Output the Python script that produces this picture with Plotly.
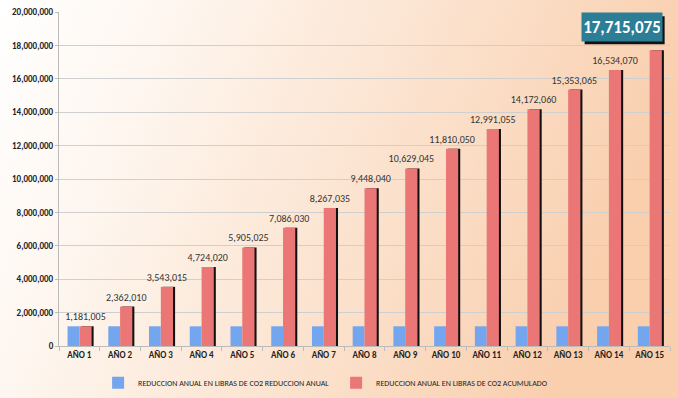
import base64
import plotly.graph_objects as go

categories = ["AÑO 1", "AÑO 2", "AÑO 3", "AÑO 4", "AÑO 5", "AÑO 6", "AÑO 7", "AÑO 8",
              "AÑO 9", "AÑO 10", "AÑO 11", "AÑO 12", "AÑO 13", "AÑO 14", "AÑO 15"]
reduccion_anual = [1181005, 1181005, 1181005, 1181005, 1181005, 1181005, 1181005, 1181005,
                   1181005, 1181005, 1181005, 1181005, 1181005, 1181005, 1181005]
reduccion_acumulado = [1181005, 2362010, 3543015, 4724020, 5905025, 7086030, 8267035, 9448040,
                       10629045, 11810050, 12991055, 14172060, 15353065, 16534070, 17715075]
y_tick_values = [0, 2000000, 4000000, 6000000, 8000000, 10000000, 12000000, 14000000,
                 16000000, 18000000, 20000000]
series_names = ["REDUCCION ANUAL EN LIBRAS DE CO2 REDUCCION ANUAL",
                "REDUCCION ANUAL EN LIBRAS DE CO2 ACUMULADO"]

FONT = "Carlito, Liberation Sans Narrow, DejaVu Sans Condensed, Roboto"
W, H = 678, 398
ML, MR, MT, MB = 59, 8, 12, 52
PW, PH = W - ML - MR, H - MT - MB

labels = [f"{v:,}" for v in reduccion_acumulado]
labels[-1] = ""

fig = go.Figure()

# shadow behind the accumulated bars
fig.add_trace(go.Bar(
    x=categories, y=reduccion_acumulado, width=0.3, offset=0.05,
    marker=dict(color="#111111", line=dict(width=0)),
    showlegend=False, hoverinfo="skip"))

fig.add_trace(go.Bar(
    x=categories, y=reduccion_anual, name=series_names[0], width=0.29, offset=-0.29,
    marker=dict(color="#74A6EF", line=dict(width=0))))

fig.add_trace(go.Bar(
    x=categories, y=reduccion_acumulado, name=series_names[1], width=0.3, offset=0.0,
    marker=dict(color="#EA7676", line=dict(width=0)),
    text=labels, textposition="outside", constraintext="none", cliponaxis=False,
    textfont=dict(family=FONT, size=10, color="#333333")))

# highlighted last value (box with a drop shadow)
last_idx = len(categories) - 1
fig.add_shape(type="rect", xref="x", yref="y", xsizemode="pixel", ysizemode="pixel",
              xanchor=last_idx, yanchor=reduccion_acumulado[-1],
              x0=-65, x1=15, y0=6, y1=34,
              fillcolor="#111111", line=dict(width=0), layer="above")
last_txt = f"{reduccion_acumulado[-1]:,}"
fig.add_annotation(x=categories[-1], y=reduccion_acumulado[-1], xshift=-28, yshift=23,
                   text=f"<b>{last_txt}</b>", showarrow=False, width=76, height=24,
                   font=dict(family=FONT, size=17, color="#FFFFFF"),
                   bgcolor="#2C7D96", borderpad=2)

# gradient background
svg = ('<svg xmlns="http://www.w3.org/2000/svg" width="678" height="398">'
       '<defs><linearGradient id="g" x1="0" y1="0" x2="1" y2="0.25">'
       '<stop offset="0" stop-color="#FFFFFF"/>'
       '<stop offset="0.25" stop-color="#FEF6EF"/>'
       '<stop offset="1" stop-color="#F9CFAE"/>'
       '</linearGradient></defs>'
       '<rect width="678" height="398" fill="url(#g)"/></svg>')
src = "data:image/svg+xml;base64," + base64.b64encode(svg.encode()).decode()
fig.add_layout_image(source=src, xref="paper", yref="paper",
                     x=-ML / PW, y=1 + MT / PH, sizex=W / PW, sizey=H / PH,
                     xanchor="left", yanchor="top", sizing="stretch", layer="below")

fig.update_layout(
    width=W, height=H,
    margin=dict(l=ML, r=MR, t=MT, b=MB, autoexpand=False),
    barmode="overlay",
    paper_bgcolor="#FFFFFF", plot_bgcolor="rgba(0,0,0,0)",
    font=dict(family=FONT, color="#333333"),
    legend=dict(orientation="h", x=0.064, xanchor="left", y=-0.11, yanchor="middle",
                font=dict(family=FONT, size=8, color="#222222"),
                bgcolor="rgba(0,0,0,0)", entrywidth=193, entrywidthmode="pixels"),
    xaxis=dict(type="category", tickson="boundaries", ticks="outside", ticklen=4,
               tickcolor="#BBBBBB", showline=True, linecolor="#BBBBBB", linewidth=1,
               showgrid=False, automargin=False,
               tickvals=categories, ticktext=[f"<b>{c}</b>" for c in categories],
               tickfont=dict(family=FONT, size=9, color="#222222"),
               range=[-0.5, len(categories) - 0.5]),
    yaxis=dict(range=[0, 20000000], tickvals=y_tick_values,
               ticktext=[f"<b>{v:,}</b>" for v in y_tick_values],
               showgrid=True, gridcolor="#CFCFCF", gridwidth=1,
               showline=True, linecolor="#BBBBBB", linewidth=1,
               ticks="outside", ticklen=3, tickcolor="#BBBBBB",
               zeroline=False, automargin=False,
               tickfont=dict(family=FONT, size=9, color="#222222")),
)

fig.write_html("out.html", config={"displayModeBar": False},
               post_script="document.body.style.margin='0';")
